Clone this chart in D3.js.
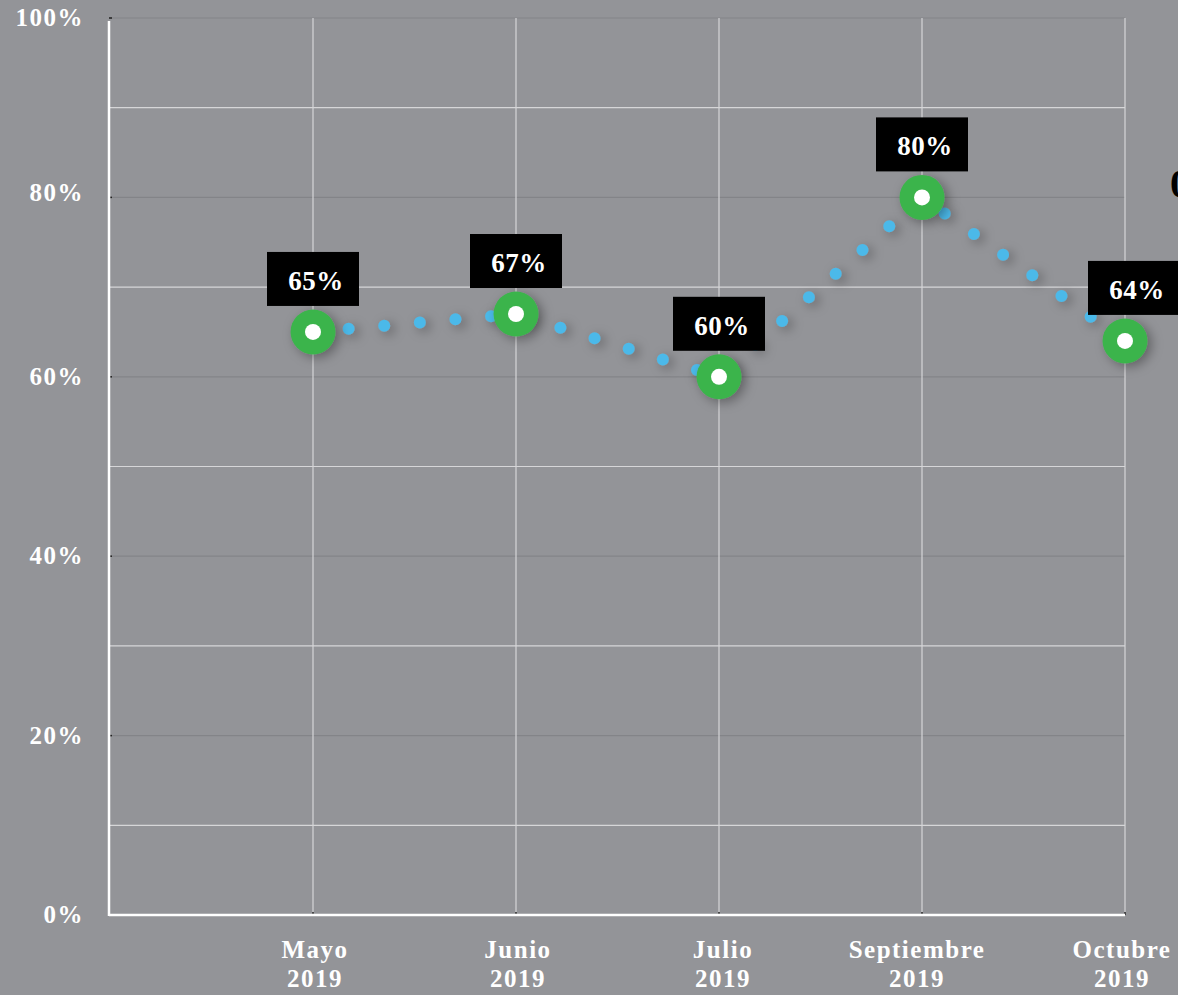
<!DOCTYPE html>
<html>
<head>
<meta charset="utf-8">
<script src="https://cdn.jsdelivr.net/npm/d3@7"></script>
<style>
  html, body { margin: 0; padding: 0; background: #939498; }
  svg { display: block; }
  text { font-family: "Liberation Serif", "DejaVu Serif", serif; font-weight: bold; }
</style>
</head>
<body>
<svg id="chart" width="1178" height="995"></svg>
<script>
// data
const months = ["Mayo", "Junio", "Julio", "Septiembre", "Octubre"];
const years = ["2019", "2019", "2019", "2019", "2019"];
const values = [0.65, 0.67, 0.60, 0.80, 0.64];
const yTicks = [0, 0.2, 0.4, 0.6, 0.8, 1];
const minorTicks = [0.1, 0.3, 0.5, 0.7, 0.9];

const svg = d3.select("#chart");
const W = 1178, H = 995;
// plot edges (not "top": that name is taken by window.top)
const pLeft = 109, pTop = 18, pBottom = 915, pRight = 1125;

const x = d3.scalePoint().domain(months).range([313, pRight]);
const y = d3.scaleLinear().domain([0, 1]).range([pBottom, pTop]);

svg.append("rect").attr("width", W).attr("height", H).attr("fill", "#939498");

const defs = svg.append("defs");
const shadow = defs.append("filter").attr("id", "shadow")
  .attr("x", "-80%").attr("y", "-80%").attr("width", "260%").attr("height", "260%");
shadow.append("feDropShadow")
  .attr("dx", 4).attr("dy", 3).attr("stdDeviation", 6)
  .attr("flood-color", "#000").attr("flood-opacity", 0.35);
const blur = defs.append("filter").attr("id", "blur")
  .attr("x", "0").attr("y", "-200%").attr("width", "100%").attr("height", "500%");
blur.append("feGaussianBlur").attr("stdDeviation", "0 2");

// major gridlines: darker, a bit fuzzy
const major = svg.append("g");
major.selectAll("line.fuzz")
  .data(yTicks.filter(d => d > 0))
  .enter().append("line")
  .attr("class", "fuzz")
  .attr("x1", pLeft).attr("x2", pRight)
  .attr("y1", d => y(d) - 2).attr("y2", d => y(d) - 2)
  .attr("stroke", "#8a8b8f").attr("stroke-width", 4)
  .attr("filter", "url(#blur)");
major.selectAll("line.main")
  .data(yTicks.filter(d => d > 0))
  .enter().append("line")
  .attr("class", "main")
  .attr("x1", pLeft).attr("x2", pRight)
  .attr("y1", d => y(d)).attr("y2", d => y(d))
  .attr("stroke", "#838488").attr("stroke-width", 1.2);

// minor gridlines, light
svg.append("g").selectAll("line")
  .data(minorTicks)
  .enter().append("line")
  .attr("x1", pLeft).attr("x2", pRight)
  .attr("y1", d => y(d)).attr("y2", d => y(d))
  .attr("stroke", "#d6d6d8").attr("stroke-width", 1.2);

// vertical gridlines
svg.append("g").selectAll("line")
  .data(months)
  .enter().append("line")
  .attr("x1", d => x(d)).attr("x2", d => x(d))
  .attr("y1", pTop).attr("y2", pBottom)
  .attr("stroke", "#d6d6d8").attr("stroke-width", 1.2);

// little black ticks
svg.append("g").selectAll("line")
  .data(yTicks)
  .enter().append("line")
  .attr("x1", pLeft).attr("x2", pLeft + 3)
  .attr("y1", d => y(d)).attr("y2", d => y(d))
  .attr("stroke", "#222").attr("stroke-width", 1.5);
svg.append("g").selectAll("line")
  .data(months)
  .enter().append("line")
  .attr("x1", d => x(d)).attr("x2", d => x(d))
  .attr("y1", pBottom).attr("y2", pBottom - 3)
  .attr("stroke", "#222").attr("stroke-width", 1.5);

// axes lines (white)
svg.append("line")
  .attr("x1", pLeft).attr("x2", pLeft)
  .attr("y1", pTop + 3).attr("y2", pBottom + 1)
  .attr("stroke", "#fff").attr("stroke-width", 2.5);
svg.append("line")
  .attr("x1", pLeft).attr("x2", pRight)
  .attr("y1", pBottom).attr("y2", pBottom)
  .attr("stroke", "#fff").attr("stroke-width", 2.5);

// y labels
svg.append("g").selectAll("text")
  .data(yTicks)
  .enter().append("text")
  .attr("x", 84)
  .attr("y", d => y(d) + (d === 0.8 ? 4 : 8))
  .attr("text-anchor", "end")
  .attr("fill", "#fff")
  .attr("font-size", 25)
  .attr("letter-spacing", 1.5)
  .text(d => Math.round(d * 100) + "%");

// x labels (two lines)
const xShift = [2, 2, 4, -5, -3];
const xl = svg.append("g").selectAll("text")
  .data(months)
  .enter().append("text")
  .attr("y", 958)
  .attr("text-anchor", "middle")
  .attr("fill", "#fff")
  .attr("font-size", 25)
  .attr("letter-spacing", 1.5);
xl.append("tspan").attr("x", (d, i) => x(d) + xShift[i]).attr("dy", 0).text(d => d);
xl.append("tspan").attr("x", (d, i) => x(d) + xShift[i]).attr("dy", 29).text((d, i) => years[i]);

// dotted line
const line = d3.line()
  .x((d, i) => x(months[i]))
  .y(d => y(d));
svg.append("path")
  .datum(values)
  .attr("d", line)
  .attr("fill", "none")
  .attr("stroke", "#4cb9e9")
  .attr("stroke-width", 12)
  .attr("stroke-linecap", "round")
  .attr("stroke-dasharray", "0 35.75")
  .attr("filter", "url(#shadow)");

// markers
const pts = svg.append("g").selectAll("g")
  .data(values)
  .enter().append("g")
  .attr("transform", (d, i) => "translate(" + x(months[i]) + "," + y(d) + ")");
pts.append("circle").attr("r", 22.5).attr("fill", "#3bb44b").attr("filter", "url(#shadow)");
pts.append("circle").attr("r", 8).attr("fill", "#fff");

// value labels
const labelOffset = [0, 0, 0, 0, 9];
const lab = svg.append("g").selectAll("g")
  .data(values)
  .enter().append("g")
  .attr("transform", (d, i) => "translate(" + (x(months[i]) + labelOffset[i]) + "," + (y(d) - 26) + ")");
lab.append("rect")
  .attr("x", -46).attr("y", -54)
  .attr("width", 92).attr("height", 54)
  .attr("fill", "#000");
lab.append("text")
  .attr("x", 3).attr("y", -16)
  .attr("text-anchor", "middle")
  .attr("fill", "#fff")
  .attr("font-size", 27)
  .attr("letter-spacing", 0.5)
  .text(d => Math.round(d * 100) + "%");

// clipped text at the right edge
svg.append("text")
  .attr("x", 1170).attr("y", 197)
  .attr("fill", "#000")
  .attr("font-size", 40)
  .text("0");
</script>
</body>
</html>
